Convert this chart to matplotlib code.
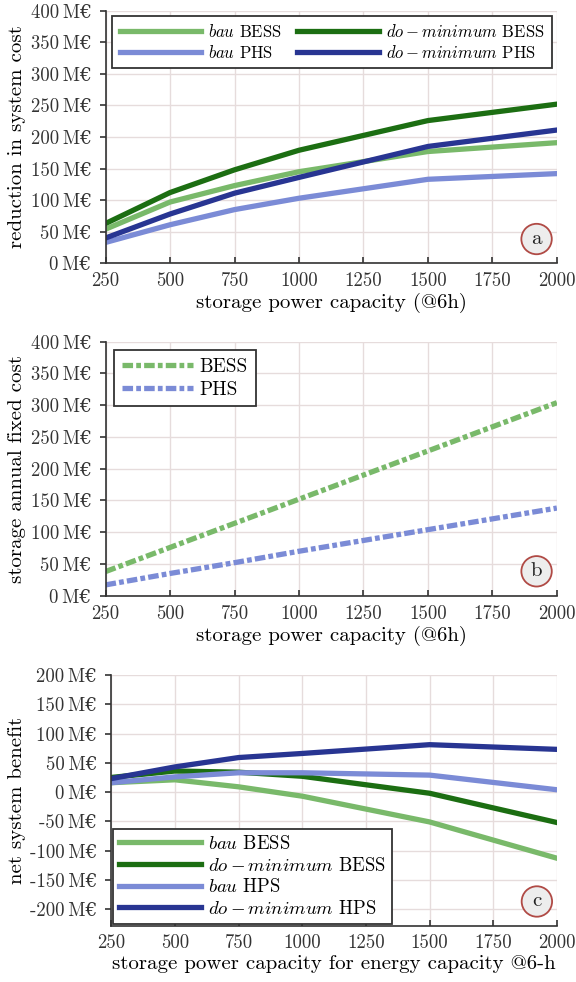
import numpy as np
import matplotlib
matplotlib.use("Agg")
from matplotlib import pyplot as plt

plt.rc("font", family=["cmr10", "DejaVu Serif"], size=15)
plt.rc("mathtext", fontset="cm")
plt.rcParams["axes.unicode_minus"] = False
plt.rcParams["axes.formatter.use_mathtext"] = True

# storage power capacity (MW)
capacity = [250, 500, 750, 1000, 1500, 2000]

# reduction in system cost (M€)
red_bau_bess = [54, 97, 123, 145, 177, 191]
red_dom_bess = [63, 112, 148, 179, 226, 252]
red_bau_phs = [33, 61, 85, 103, 133, 142]
red_dom_phs = [40, 78, 111, 136, 185, 211]

# storage annual fixed cost (M€)
fix_bess = [38, 76, 114, 152, 228, 304]
fix_phs = [17, 35, 52, 70, 104, 138]

# net system benefit (M€)
net_bau_bess = [16, 21, 9, -7, -51, -113]
net_dom_bess = [25, 36, 34, 27, -2, -52]
net_bau_hps = [16, 26, 33, 33, 29, 4]
net_dom_hps = [23, 43, 59, 66, 81, 73]

xticks = [250, 500, 750, 1000, 1250, 1500, 1750, 2000]
yticks_ab = [0, 50, 100, 150, 200, 250, 300, 350, 400]
yticks_c = [-200, -150, -100, -50, 0, 50, 100, 150, 200]

light_green = "#79b96a"
dark_green = "#1c6e12"
light_blue = "#7b8bd6"
dark_blue = "#283592"
grid_color = "#e6dcdc"
LW = 3.8
TICK_FS = 13.5


def style_axis(ax, yticks, ylim):
    ax.set_xlim(250, 2000)
    ax.set_ylim(*ylim)
    ax.set_xticks(xticks)
    ax.set_xticklabels([str(t) for t in xticks])
    ax.set_yticks(yticks)
    ax.set_yticklabels([f"{t}\u2009M€" for t in yticks])
    ax.grid(True, color=grid_color, lw=1.0)
    ax.set_axisbelow(True)
    for s in ["top", "right"]:
        ax.spines[s].set_visible(False)
    for s in ["left", "bottom"]:
        ax.spines[s].set_color("#333333")
        ax.spines[s].set_linewidth(1.2)
    ax.tick_params(labelsize=TICK_FS, width=1.2, color="#333333",
                   labelcolor="#333333")
    ax.tick_params(axis="x", direction="in", length=4, pad=6.5)
    ax.tick_params(axis="y", direction="out", length=4, pad=6)


def panel_tag(ax, letter):
    ax.text(0.955, 0.096, letter, transform=ax.transAxes, ha="center",
            va="center", fontsize=15, color="#222222",
            bbox=dict(boxstyle="circle,pad=0.3", fc="#ededed",
                      ec="#b04a45", lw=1.3))


def frame_legend(leg):
    leg.get_frame().set_linewidth(1.3)
    leg.get_frame().set_edgecolor("#333333")


fig = plt.figure(figsize=(5.76, 9.82), dpi=100)
ax_a = fig.add_axes([0.1833, 0.7319, 0.7835, 0.2572])
ax_b = fig.add_axes([0.1833, 0.3934, 0.7835, 0.2586])
ax_c = fig.add_axes([0.1931, 0.0575, 0.7738, 0.2551])

# (a) reduction in system cost
ax_a.plot(capacity, red_bau_bess, color=light_green, lw=LW, label=r"$bau$ BESS")
ax_a.plot(capacity, red_bau_phs, color=light_blue, lw=LW, label=r"$bau$ PHS")
ax_a.plot(capacity, red_dom_bess, color=dark_green, lw=LW, label=r"$do-minimum$ BESS")
ax_a.plot(capacity, red_dom_phs, color=dark_blue, lw=LW, label=r"$do-minimum$ PHS")
style_axis(ax_a, yticks_ab, (0, 400))
ax_a.set_ylabel("reduction in system cost", labelpad=3)
ax_a.set_xlabel("storage power capacity (@6h)", labelpad=2)
leg = ax_a.legend(loc="upper right", ncol=2, fancybox=False, framealpha=1,
                  fontsize=12, handlelength=4.9, columnspacing=0.9,
                  borderaxespad=0.3, borderpad=0.45, labelspacing=0.2,
                  handletextpad=0.42)
frame_legend(leg)
panel_tag(ax_a, "a")

# (b) storage annual fixed cost
ax_b.plot(capacity, fix_bess, color=light_green, lw=LW, label="BESS",
          dashes=(2.0, 0.6, 0.9, 0.6))
ax_b.plot(capacity, fix_phs, color=light_blue, lw=LW, label="PHS",
          dashes=(2.0, 0.6, 0.9, 0.6))
style_axis(ax_b, yticks_ab, (0, 400))
ax_b.set_ylabel("storage annual fixed cost", labelpad=3)
ax_b.set_xlabel("storage power capacity (@6h)", labelpad=2)
leg = ax_b.legend(loc="upper left", fancybox=False, framealpha=1,
                  fontsize=13.8, handlelength=3.7, borderaxespad=0.45,
                  borderpad=0.4, labelspacing=0.25, handletextpad=0.36)
frame_legend(leg)
panel_tag(ax_b, "b")

# (c) net system benefit
ax_c.plot(capacity, net_bau_bess, color=light_green, lw=LW, label=r"$bau$ BESS")
ax_c.plot(capacity, net_dom_bess, color=dark_green, lw=LW, label=r"$do-minimum$ BESS")
ax_c.plot(capacity, net_bau_hps, color=light_blue, lw=LW, label=r"$bau$ HPS")
ax_c.plot(capacity, net_dom_hps, color=dark_blue, lw=LW, label=r"$do-minimum$ HPS")
style_axis(ax_c, yticks_c, (-228, 200))
ax_c.set_ylabel("net system benefit", labelpad=3)
ax_c.set_xlabel("storage power capacity for energy capacity @6-h", labelpad=2)
leg = ax_c.legend(loc="lower left", fancybox=False, framealpha=1,
                  fontsize=13.5, handlelength=4.4, borderaxespad=0.1,
                  borderpad=0.3, labelspacing=0.2, handletextpad=0.36)
frame_legend(leg)
panel_tag(ax_c, "c")

fig.savefig("out.png", dpi=100)
